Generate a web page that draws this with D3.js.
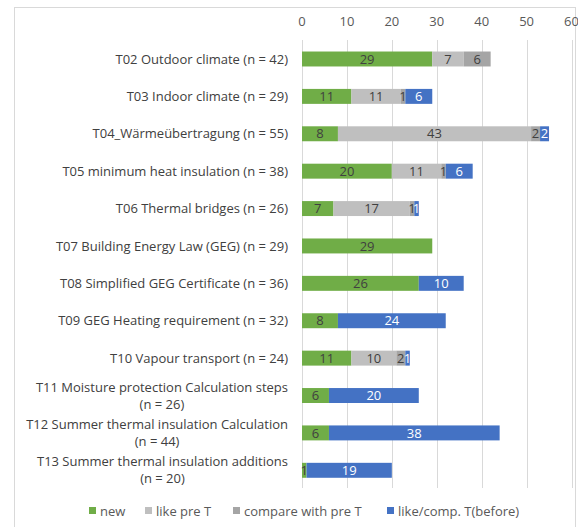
<!DOCTYPE html>
<html>
<head>
<meta charset="utf-8">
<script src="https://cdn.jsdelivr.net/npm/d3@7"></script>
<style>
  body { margin: 0; background: #fff; }
  svg { display: block; font-family: "Open Sans", "Noto Sans", sans-serif; }
</style>
</head>
<body>
<svg id="chart"></svg>
<script>
// categories (topics) and the four stacked series
var categories = [
  "T02 Outdoor climate (n = 42)",
  "T03 Indoor climate (n = 29)",
  "T04_Wärmeübertragung (n = 55)",
  "T05 minimum heat insulation (n = 38)",
  "T06 Thermal bridges (n = 26)",
  "T07 Building Energy Law (GEG) (n = 29)",
  "T08 Simplified GEG Certificate (n = 36)",
  "T09 GEG Heating requirement (n = 32)",
  "T10 Vapour transport (n = 24)",
  "T11 Moisture protection Calculation steps (n = 26)",
  "T12 Summer thermal insulation Calculation (n = 44)",
  "T13 Summer thermal insulation additions (n = 20)"
];
var seriesNames = ["new", "like pre T", "compare with pre T", "like/comp. T(before)"];
var newVals     = [29, 11,  8, 20,  7, 29, 26,  8, 11,  6,  6,  1];
var likePreT    = [ 7, 11, 43, 11, 17,  0,  0,  0, 10,  0,  0,  0];
var comparePreT = [ 6,  1,  2,  1,  1,  0,  0,  0,  2,  0,  0,  0];
var likeBefore  = [ 0,  6,  2,  6,  1,  0, 10, 24,  1, 20, 38, 19];
var xTicks = [0, 10, 20, 30, 40, 50, 60];

var colors = ["#70AD47", "#BFBFBF", "#A5A5A5", "#4472C4"];
var labelColors = ["#404040", "#404040", "#404040", "#ffffff"];
var fs = 13;

var W = 578, H = 527;
var svg = d3.select("#chart").attr("width", W).attr("height", H);

// chart frame (cropped on the right / bottom like the screenshot)
svg.append("rect")
  .attr("x", 14.5).attr("y", 7.5)
  .attr("width", 561).attr("height", 540)
  .attr("fill", "none").attr("stroke", "#D9D9D9");

var x = d3.scaleLinear().domain([0, 60]).range([302, 571.5]);
var y = d3.scaleBand().domain(categories).range([40.3, 489])
  .paddingInner(0.6).paddingOuter(0.3);

// gridlines
svg.append("g").selectAll("line")
  .data(xTicks).enter().append("line")
  .attr("x1", d => Math.round(x(d)) + 0.5).attr("x2", d => Math.round(x(d)) + 0.5)
  .attr("y1", 40).attr("y2", 488)
  .attr("stroke", "#D9D9D9");

// top axis labels
svg.append("g").selectAll("text")
  .data(xTicks).enter().append("text")
  .attr("x", d => x(d)).attr("y", 21)
  .attr("dy", "0.35em")
  .attr("text-anchor", "middle")
  .attr("font-size", fs).attr("fill", "#595959")
  .text(d => d);

// stack the series
var rows = categories.map(function(c, i) {
  return { cat: c, s0: newVals[i], s1: likePreT[i], s2: comparePreT[i], s3: likeBefore[i] };
});
var stack = d3.stack().keys(["s0", "s1", "s2", "s3"])(rows);

var layer = svg.append("g").selectAll("g")
  .data(stack).enter().append("g");

layer.selectAll("rect")
  .data(d => d.filter(p => p[1] - p[0] > 0).map(p => Object.assign(p, { key: d.index })))
  .enter().append("rect")
  .attr("x", d => x(d[0]))
  .attr("width", d => x(d[1]) - x(d[0]))
  .attr("y", d => y(d.data.cat))
  .attr("height", y.bandwidth())
  .attr("fill", d => colors[d.key]);

layer.selectAll("text")
  .data(d => d.filter(p => p[1] - p[0] > 0))
  .enter().append("text")
  .attr("x", d => (x(d[0]) + x(d[1])) / 2)
  .attr("y", d => y(d.data.cat) + y.bandwidth() / 2)
  .attr("dy", "0.36em")
  .attr("text-anchor", "middle")
  .attr("font-size", fs)
  .attr("fill", d => labelColors[d.key])
  .text(d => d[1] - d[0]);

// category labels, wrapped before "(n = ..)" when too long
var labelRight = 288;
var catG = svg.append("g");
categories.forEach(function(c) {
  var cy = y(c) + y.bandwidth() / 2;
  var t = catG.append("text")
    .attr("font-size", fs).attr("fill", "#404040")
    .attr("text-anchor", "end")
    .attr("x", labelRight).attr("y", cy).attr("dy", "0.35em")
    .text(c);
  if (t.node().getComputedTextLength() > 280) {
    t.remove();
    var k = c.indexOf(" (n");
    var lines = [c.slice(0, k), c.slice(k + 1)];
    var tmp = catG.append("text").attr("font-size", fs).text(lines[0]);
    var w = tmp.node().getComputedTextLength();
    tmp.remove();
    var cx = labelRight - w / 2;
    lines.forEach(function(l, j) {
      catG.append("text")
        .attr("font-size", fs).attr("fill", "#404040")
        .attr("text-anchor", "middle")
        .attr("x", cx).attr("y", cy - 8.5 + j * 17).attr("dy", "0.35em")
        .text(l);
    });
  }
});

// legend
var legendX = [89, 145, 233, 387];
var lg = svg.append("g").selectAll("g")
  .data(seriesNames).enter().append("g")
  .attr("transform", (d, i) => "translate(" + legendX[i] + ",511)");
lg.append("rect")
  .attr("x", 0).attr("y", -4).attr("width", 7).attr("height", 7)
  .attr("fill", (d, i) => colors[i]);
lg.append("text")
  .attr("x", 11).attr("y", 0).attr("dy", "0.35em")
  .attr("font-size", fs).attr("fill", "#595959")
  .text(d => d);
</script>
</body>
</html>
